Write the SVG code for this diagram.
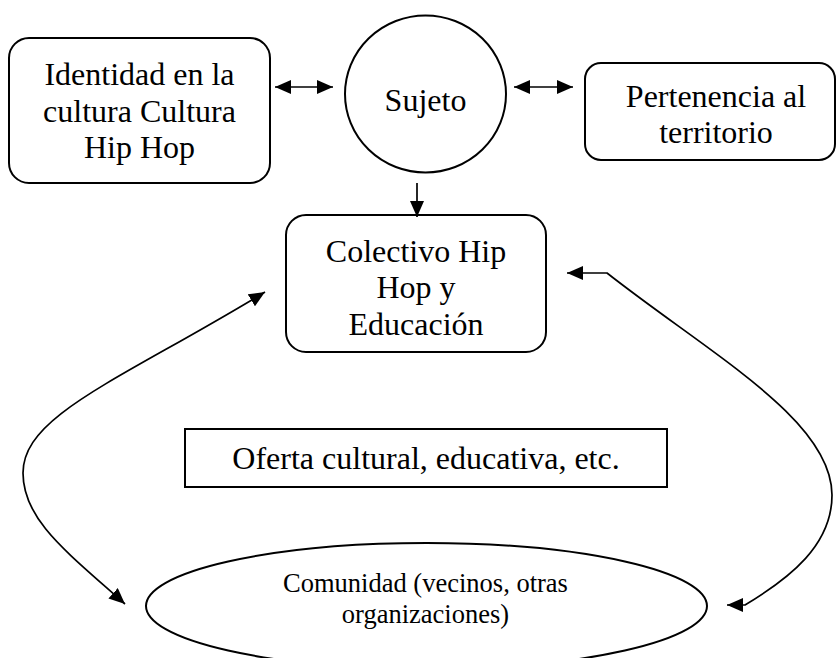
<svg xmlns="http://www.w3.org/2000/svg" width="836" height="658" viewBox="0 0 836 658">
<defs>
<style>
.shape{fill:#fff;stroke:#000;stroke-width:2}
.conn{fill:none;stroke:#000;stroke-width:1.7}
.t{font-family:"Liberation Serif","Times New Roman",serif;font-size:32px;fill:#000;text-anchor:middle}
.s{font-family:"Liberation Serif","Times New Roman",serif;font-size:26.5px;fill:#000;text-anchor:middle}
</style>
<marker id="ah" viewBox="0 0 16 14" refX="16" refY="7" markerWidth="16" markerHeight="14" markerUnits="userSpaceOnUse" orient="auto-start-reverse">
<path d="M0,0 L16,7 L0,14 z" fill="#000"/>
</marker>
</defs>
<rect width="836" height="658" fill="#fff"/>
<g id="identidad">
<rect class="shape" x="9" y="38" width="261" height="145" rx="20" ry="20"/>
<text class="t" x="139.5" y="85">Identidad en la</text>
<text class="t" x="139.5" y="122">cultura Cultura</text>
<text class="t" x="139.5" y="158">Hip Hop</text>
</g>
<g id="sujeto">
<ellipse class="shape" cx="425.5" cy="94" rx="80.5" ry="78.5"/>
<text class="t" x="425.5" y="111">Sujeto</text>
</g>
<g id="pertenencia">
<rect class="shape" x="585" y="63" width="250" height="97" rx="16" ry="16"/>
<text class="t" x="716" y="107">Pertenencia al</text>
<text class="t" x="716" y="143">territorio</text>
</g>
<g id="colectivo">
<rect class="shape" x="286" y="215" width="260" height="137" rx="20" ry="20"/>
<text class="t" x="416" y="262">Colectivo Hip</text>
<text class="t" x="416" y="298">Hop y</text>
<text class="t" x="416" y="335">Educación</text>
</g>
<g id="oferta">
<rect class="shape" x="185" y="429" width="482" height="58"/>
<text class="t" x="426" y="469">Oferta cultural, educativa, etc.</text>
</g>
<g id="comunidad">
<ellipse class="shape" cx="426.5" cy="606" rx="280.5" ry="63"/>
<text class="s" x="425.5" y="592">Comunidad (vecinos, otras</text>
<text class="s" x="425.5" y="623">organizaciones)</text>
</g>
<g id="connectors">
<line class="conn" x1="275" y1="87" x2="333" y2="87" marker-start="url(#ah)" marker-end="url(#ah)"/>
<line class="conn" x1="514" y1="87" x2="573" y2="87" marker-start="url(#ah)" marker-end="url(#ah)"/>
<line class="conn" x1="417" y1="183" x2="417" y2="217" marker-end="url(#ah)"/>
<path class="conn" d="M265,292 C120,380 23,415 23,473 C23,520 67,552 125,604" marker-start="url(#ah)" marker-end="url(#ah)"/>
<path class="conn" d="M567,273 L607,273 C710,354 832,420 832,495 C832,545 790,578 745,605 L727,605" marker-start="url(#ah)" marker-end="url(#ah)"/>
</g>
</svg>
